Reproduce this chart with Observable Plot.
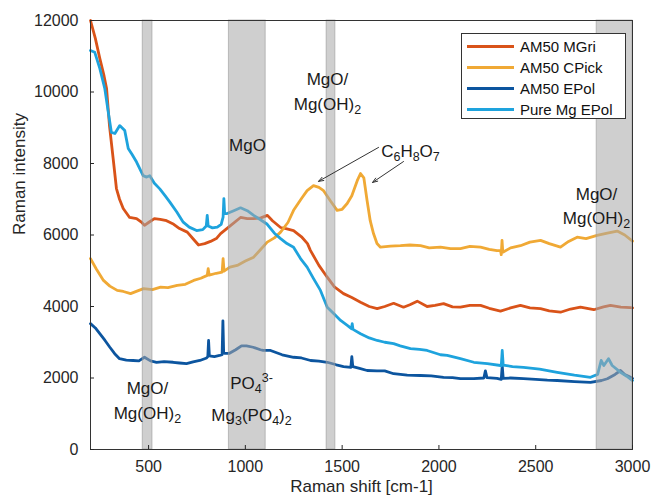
<!DOCTYPE html>
<html>
<head>
<meta charset="utf-8">
<script src="https://cdn.jsdelivr.net/npm/d3@7"></script>
<script src="https://cdn.jsdelivr.net/npm/@observablehq/plot@0.6"></script>
<style>
  body { margin: 0; background: #fff; font-family: "Liberation Sans", Arial, sans-serif; }
  #wrap { position: relative; width: 652px; height: 500px; }
  #legend { position: absolute; left: 461px; top: 33px; width: 165px; height: 86px; border: 1px solid #333; background: #fff; box-sizing: border-box; }
  .row { position: absolute; left: 0; height: 20px; display: flex; align-items: center; }
  .sw { width: 47px; height: 3px; margin-left: 5px; margin-right: 6px; }
  .lab { font-size: 15px; color: #111; white-space: nowrap; }
</style>
</head>
<body>
<div id="wrap"><div id="chart"></div><div id="legend"></div></div>
<script>
const seriesNames = ["AM50 MGri", "AM50 CPick", "AM50 EPol", "Pure Mg EPol"];
const seriesColors = ["#D95319", "#F0A935", "#0C559F", "#1EA3DD"];

const mgriX = [200,225,248,270,283,298,317,334,350,369,402,438,465,479,500,530,560,593,630,660,700,732,758,790,820,850,872,920,975,1010,1042,1080,1114,1140,1182,1215,1249,1290,1321,1336,1380,1423,1460,1507,1550,1595,1640,1681,1720,1766,1817,1850,1888,1939,1980,2024,2070,2111,2160,2215,2260,2318,2370,2421,2470,2525,2570,2628,2680,2731,2800,2850,2886,2940,2990,3000];
const mgriY = [12000,11500,10940,10450,10100,9060,8140,7300,7000,6740,6490,6460,6350,6270,6350,6460,6440,6400,6300,6180,6080,5880,5720,5760,5820,5900,6040,6250,6490,6460,6460,6480,6550,6400,6210,6170,6125,5950,5760,5570,5150,4820,4550,4360,4250,4120,4000,3940,4000,4090,3980,4050,4150,4000,4030,4080,3990,3980,4030,4030,3950,3870,3960,4030,3960,3940,3880,3840,3930,3980,3910,3990,4030,3980,3970,3960];

const cpickX = [200,230,267,300,338,370,407,440,474,520,562,600,648,690,733,770,803,808,813,850,880,885,890,920,958,1000,1043,1080,1113,1150,1182,1220,1249,1290,1319,1352,1380,1404,1440,1474,1500,1526,1550,1578,1595,1612,1629,1645,1662,1680,1698,1750,1801,1850,1905,1950,2008,2060,2111,2160,2215,2260,2300,2318,2322,2326,2330,2370,2421,2470,2525,2570,2628,2670,2714,2760,2817,2870,2921,2960,3000];
const cpickY = [5340,5050,4730,4570,4450,4420,4360,4430,4500,4470,4540,4530,4590,4620,4730,4790,4870,5060,4880,4930,4960,5340,4990,5100,5150,5270,5380,5600,5800,5920,6080,6350,6690,7020,7240,7380,7330,7240,6950,6690,6720,6880,7100,7520,7720,7600,6960,6400,6040,5760,5660,5690,5700,5720,5700,5640,5660,5620,5620,5680,5660,5600,5560,5570,5450,5850,5520,5640,5700,5800,5850,5760,5660,5820,5940,5900,5990,6050,6110,6000,5830];

const epolX = [200,225,248,275,300,325,350,385,420,450,479,510,541,580,627,660,696,730,765,800,806,810,814,840,867,880,884,888,892,918,950,980,1006,1040,1078,1092,1130,1190,1249,1290,1337,1380,1423,1470,1507,1545,1550,1555,1590,1629,1680,1720,1766,1836,1905,1960,2024,2070,2111,2180,2232,2240,2248,2300,2322,2327,2332,2370,2437,2500,2560,2611,2700,2783,2840,2870,2910,2938,2960,2990,3000];
const epolY = [3520,3400,3240,3050,2860,2680,2540,2500,2490,2480,2580,2480,2440,2460,2440,2420,2400,2450,2490,2560,2600,3050,2620,2600,2630,2650,3600,2700,2690,2690,2790,2900,2900,2860,2790,2770,2770,2650,2580,2560,2490,2470,2440,2370,2320,2300,2600,2320,2270,2210,2200,2200,2120,2080,2070,2060,2020,2010,1980,1980,2000,2200,2010,1990,1960,2350,1990,2000,1980,1960,1940,1930,1900,1880,1930,1980,2100,2210,2100,2020,1990];

const pureX = [200,222,248,274,290,308,326,351,377,395,415,438,455,472,490,506,530,558,585,610,645,679,710,748,780,798,803,808,830,855,875,885,889,893,906,940,975,1010,1043,1080,1113,1150,1182,1215,1249,1285,1319,1350,1388,1423,1460,1492,1530,1548,1552,1556,1595,1640,1681,1720,1766,1800,1853,1900,1939,2008,2043,2111,2180,2250,2318,2322,2327,2332,2380,2437,2520,2611,2700,2783,2820,2838,2852,2876,2895,2940,2970,3000];
const pureY = [11160,11110,10660,10090,9500,8870,8840,9060,8920,8420,8250,8040,7850,7660,7620,7660,7450,7290,7100,6920,6650,6360,6220,6125,6150,6250,6550,6250,6200,6220,6300,6500,7020,6600,6600,6680,6760,6680,6550,6420,6300,6050,5900,5760,5660,5340,5100,4800,4450,3980,3780,3610,3460,3380,3520,3360,3240,3120,3050,3000,2960,2900,2820,2800,2770,2650,2630,2540,2440,2400,2350,2340,2770,2360,2320,2300,2250,2160,2080,2020,2100,2490,2350,2540,2350,2150,2050,1930];

const bandStart = [470, 915, 1420, 2815];
const bandEnd = [520, 1105, 1465, 3000];

const xTicks = [500, 1000, 1500, 2000, 2500, 3000];
const yTicks = [0, 2000, 4000, 6000, 8000, 10000, 12000];
const xLabel = "Raman shift [cm-1]";
const yLabel = "Raman intensity";

// _{..} = subscript, ^{..} = superscript
const annoText = ["MgO", "MgO/\nMg(OH)_{2}", "C_{6}H_{8}O_{7}", "MgO/\nMg(OH)_{2}", "MgO/\nMg(OH)_{2}", "PO_{4}^{3-}", "Mg_{3}(PO_{4})_{2}"];
const annoX = [1011, 1424, 1853, 2814, 494, 1032, 1032];
const annoY = [8560, 10060, 8390, 6860, 1420, 1900, 1010];

const arrowFromX = [1688, 1817];
const arrowFromY = [8450, 8055];
const arrowToX = [1378, 1657];
const arrowToY = [7500, 7470];

// build tables
const spectra = [];
[[mgriX, mgriY], [cpickX, cpickY], [epolX, epolY], [pureX, pureY]].forEach(([xs, ys], i) => {
  xs.forEach((x, j) => spectra.push({series: seriesNames[i], x, y: ys[j]}));
});
const bands = bandStart.map((s, i) => ({x1: s, x2: bandEnd[i]}));
const annos = annoText.map((t, i) => ({t, x: annoX[i], y: annoY[i]}));
const arrows = arrowFromX.map((x, i) => ({x1: x, y1: arrowFromY[i], x2: arrowToX[i], y2: arrowToY[i]}));

const chart = Plot.plot({
  width: 652,
  height: 500,
  marginLeft: 90,
  marginRight: 20,
  marginTop: 20,
  marginBottom: 51,
  style: {fontFamily: "'Liberation Sans', Arial, sans-serif", fontSize: "16px", color: "#262626", background: "#fff"},
  x: {domain: [200, 3000]},
  y: {domain: [0, 12000]},
  color: {domain: seriesNames, range: seriesColors},
  marks: [
    Plot.line(spectra, {x: "x", y: "y", z: "series", stroke: "series", strokeWidth: 2.8, curve: "linear", strokeLinejoin: "round"}),
    Plot.rect(bands, {x1: "x1", x2: "x2", fill: "#a8a8a8", fillOpacity: 0.55, stroke: "#999", strokeOpacity: 0.6, strokeWidth: 1}),
    Plot.frame({stroke: "#333", strokeWidth: 1}),
    Plot.axisX({ticks: xTicks, tickSize: -4, tickPadding: 15, fontSize: 16, tickFormat: d => String(d), label: null}),
    Plot.axisY({ticks: yTicks, tickSize: -4, tickPadding: 16, fontSize: 16, tickFormat: d => String(d), label: null}),
    Plot.text([xLabel], {text: d => d, frameAnchor: "bottom", lineAnchor: "bottom", dy: 42, fontSize: 17, fill: "#262626"}),
    Plot.text([yLabel], {text: d => d, frameAnchor: "left", rotate: -90, lineAnchor: "top", dx: -78, fontSize: 17, fill: "#262626"}),
    Plot.text(annos, {x: "x", y: "y", text: "t", fontSize: 17, fill: "#1a1a1a", lineHeight: 1.45}),
    Plot.arrow(arrows, {x1: "x1", y1: "y1", x2: "x2", y2: "y2", stroke: "#333", strokeWidth: 1, headLength: 8, headAngle: 40})
  ]
});
document.getElementById("chart").appendChild(chart);

// rich text: subscripts & superscripts
const SVGNS = "http://www.w3.org/2000/svg";
function richify(el) {
  const s = el.textContent;
  if (!/[_^]\{/.test(s)) return;
  while (el.firstChild) el.removeChild(el.firstChild);
  const re = /([_^])\{([^}]*)\}/g;
  let last = 0, m;
  while ((m = re.exec(s))) {
    if (m.index > last) el.appendChild(document.createTextNode(s.slice(last, m.index)));
    const t = document.createElementNS(SVGNS, "tspan");
    t.setAttribute("font-size", "12.5");
    t.setAttribute("baseline-shift", m[1] === "_" ? "-4" : "7");
    t.textContent = m[2];
    el.appendChild(t);
    last = re.lastIndex;
  }
  if (last < s.length) el.appendChild(document.createTextNode(s.slice(last)));
}
chart.querySelectorAll("text").forEach(text => {
  const spans = text.querySelectorAll("tspan");
  if (spans.length) spans.forEach(richify); else richify(text);
});

// legend
const legend = document.getElementById("legend");
const rowTops = [2, 23, 44, 65];
seriesNames.forEach((name, i) => {
  const row = document.createElement("div");
  row.className = "row";
  row.style.top = rowTops[i] + "px";
  const sw = document.createElement("div");
  sw.className = "sw";
  sw.style.background = seriesColors[i];
  const lab = document.createElement("span");
  lab.className = "lab";
  lab.textContent = name;
  row.appendChild(sw); row.appendChild(lab);
  legend.appendChild(row);
});
</script>
</body>
</html>
